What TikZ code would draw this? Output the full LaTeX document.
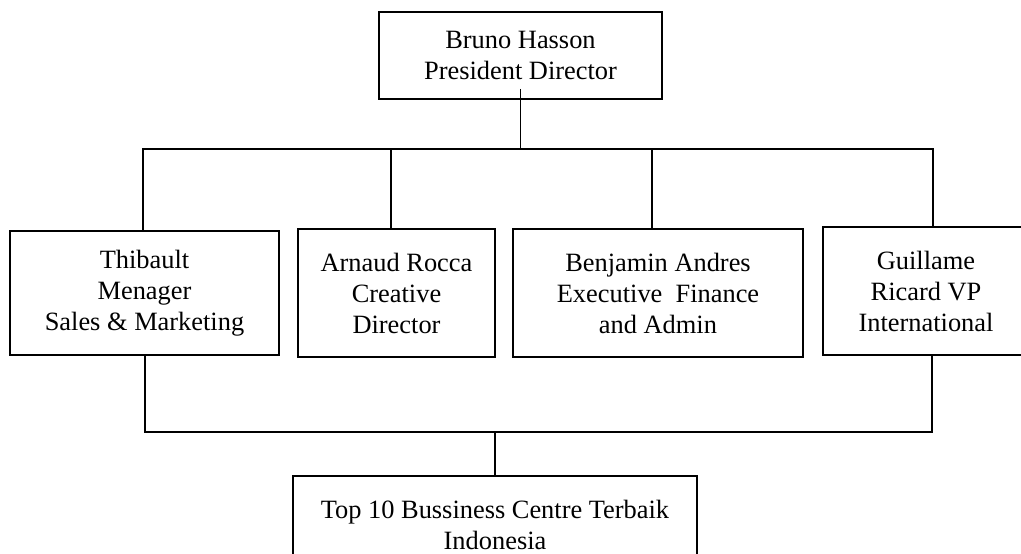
\documentclass[tikz,border=0pt]{standalone}
\usepackage{fontspec}
\setmainfont{Liberation Serif}
\usepackage{tikz}
\usetikzlibrary{positioning,calc}
\newcommand{\orgfont}{\fontsize{13.2pt}{15.5pt}\selectfont}

\begin{document}
\begin{tikzpicture}[x=0.5pt, y=-0.5pt,
    orgbox/.style={draw, rectangle, line width=0.8pt, align=center, inner sep=0pt, font=\orgfont},
    link/.style={line width=0.75pt}]
  \useasboundingbox (0,0) rectangle (1021,553);
  \clip (0,0) rectangle (1021,553);
  % boxes
  \node[orgbox, minimum width=141.5pt, minimum height=43.5pt] (top) at (520.5,55.5) {Bruno Hasson\\President Director};
  \node[orgbox, minimum width=134.5pt, minimum height=62pt] (thib) at (144.5,293) {Thibault\\Menager\\Sales \& Marketing};
  \node[orgbox, minimum width=98.5pt, minimum height=64pt] (arn) at (396.5,293) {Arnaud Rocca\\Creative\\Director};
  \node[orgbox, minimum width=145pt, minimum height=64pt] (ben) at (658,293) {Benjamin Andres\\Executive\ \ Finance\\and Admin};
  \node[orgbox, minimum width=103pt, minimum height=64pt] (gui) at (926,291) {Guillame\\Ricard VP\\International};
  \node[orgbox, minimum width=202pt, minimum height=49pt] (bot) at (495,525) {Top 10 Bussiness Centre Terbaik\\Indonesia};
  % bars
  \coordinate (upbar) at (0,149);
  \coordinate (lowbar) at (0,432);
  \coordinate (topB) at ([yshift=5.5pt]top.south);
  \coordinate (thibT) at ([xshift=-0.75pt]thib.north);
  \coordinate (arnT) at ([xshift=-2.75pt]arn.north);
  \coordinate (benT) at ([xshift=-3pt]ben.north);
  \coordinate (guiT) at ([xshift=3.5pt]gui.north);
  \coordinate (thibB) at ([xshift=0.25pt]thib.south);
  \coordinate (guiB) at ([xshift=3pt]gui.south);
  \draw[link] (topB) -- (topB |- upbar);
  \draw[link] (thibT) |- (upbar -| guiT) -- (guiT);
  \draw[link] (arnT) -- (arnT |- upbar);
  \draw[link] (benT) -- (benT |- upbar);
  \draw[link] (thibB) |- (lowbar -| guiB) -- (guiB);
  \draw[link] (bot.north) -- (bot.north |- lowbar);
\end{tikzpicture}
\end{document}
